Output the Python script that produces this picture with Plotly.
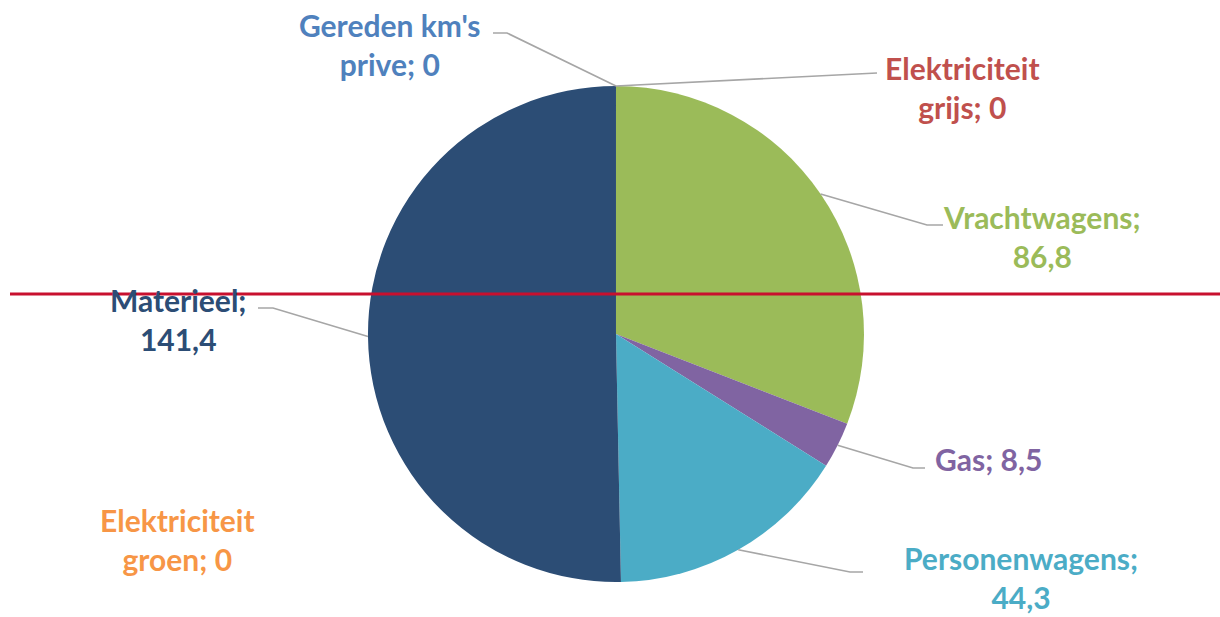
import math
import plotly.graph_objects as go

# ---- data ----
categories = ["Gereden km's prive", "Elektriciteit grijs", "Vrachtwagens", "Gas",
              "Personenwagens", "Elektriciteit groen", "Materieel"]
values = [0, 0, 86.8, 8.5, 44.3, 0, 141.4]
label_names = ["Gereden km's<br>prive", "Elektriciteit<br>grijs", "Vrachtwagens", "Gas",
               "Personenwagens", "Elektriciteit<br>groen", "Materieel"]
value_on_newline = [False, False, True, False, True, False, True]
slice_colors = ["#4F81BD", "#C0504D", "#9BBB59", "#8064A2", "#4BACC6", "#F79646", "#2C4D75"]

# ---- layout constants ----
W, H = 1220, 617
DOM_X = [0.3016, 0.7082]
DOM_Y = [0.0567, 0.8606]
# label block centres (pixels) and leader elbows/ends (pixels) -- layout only
label_pos = [(390, 45), (962, 87), (1042, 236), (988, 459), (1021, 577), (177, 539), (178, 319)]
leader = [((507, 33), (493, 33)), ((877, 73), None), ((927, 225), (943, 225)),
          ((913, 468), (925, 468)), ((850, 572), (863, 572)), None, ((273, 308), (258, 308))]


def fmt(v):
    return ("%g" % v).replace(".", ",")


def px2paper(x, y):
    return x / W, 1 - y / H


fig = go.Figure(go.Pie(
    labels=categories, values=values, sort=False, direction="clockwise", rotation=0,
    marker=dict(colors=slice_colors, line=dict(width=0)),
    textinfo="none", hoverinfo="label+value", showlegend=False,
    domain=dict(x=DOM_X, y=DOM_Y),
))

# pie geometry in pixels (derived from domain)
cx = (DOM_X[0] + DOM_X[1]) / 2 * W
cy = (1 - (DOM_Y[0] + DOM_Y[1]) / 2) * H
r = min((DOM_X[1] - DOM_X[0]) * W, (DOM_Y[1] - DOM_Y[0]) * H) / 2

total = sum(values)
cum = 0.0
annotations = []
shapes = []
for i, (cat, v) in enumerate(zip(categories, values)):
    a0 = cum / total * 360
    cum += v
    a1 = cum / total * 360
    mid = (a0 + a1) / 2
    if v == 0 and i == 0:
        mid = 0.0
    sx = cx + r * math.sin(math.radians(mid))
    sy = cy - r * math.cos(math.radians(mid))
    sep = ";<br>" if value_on_newline[i] else "; "
    text = f"{label_names[i]}{sep}{fmt(v)}"
    lx, ly = px2paper(*label_pos[i])
    annotations.append(dict(
        text=text, x=lx, y=ly, xref="paper", yref="paper", showarrow=False,
        xanchor="center", yanchor="middle", align="center", borderpad=0,
        font=dict(family="Lato", size=30, color=slice_colors[i], weight="bold"),
    ))
    if leader[i] is not None:
        pts = [(sx, sy), leader[i][0]]
        if leader[i][1] is not None:
            pts.append(leader[i][1])
        pp = [px2paper(x, y) for x, y in pts]
        path = "M " + " L ".join(f"{x:.5f},{y:.5f}" for x, y in pp)
        shapes.append(dict(type="path", path=path, xref="paper", yref="paper",
                           line=dict(color="#A6A6A6", width=1.6)))

# red horizontal marker line
x0, y0 = px2paper(10, 294)
x1, _ = px2paper(1220, 294)
shapes.append(dict(type="line", xref="paper", yref="paper", x0=x0, x1=x1, y0=y0, y1=y0,
                   line=dict(color="#C8102E", width=3)))

fig.update_layout(
    width=W, height=H, margin=dict(l=0, r=0, t=0, b=0),
    paper_bgcolor="white", plot_bgcolor="white",
    annotations=annotations, shapes=shapes,
)

fig.write_html("out.html", config={"displayModeBar": False},
               post_script="document.body.style.margin='0';document.body.style.overflow='hidden';")
